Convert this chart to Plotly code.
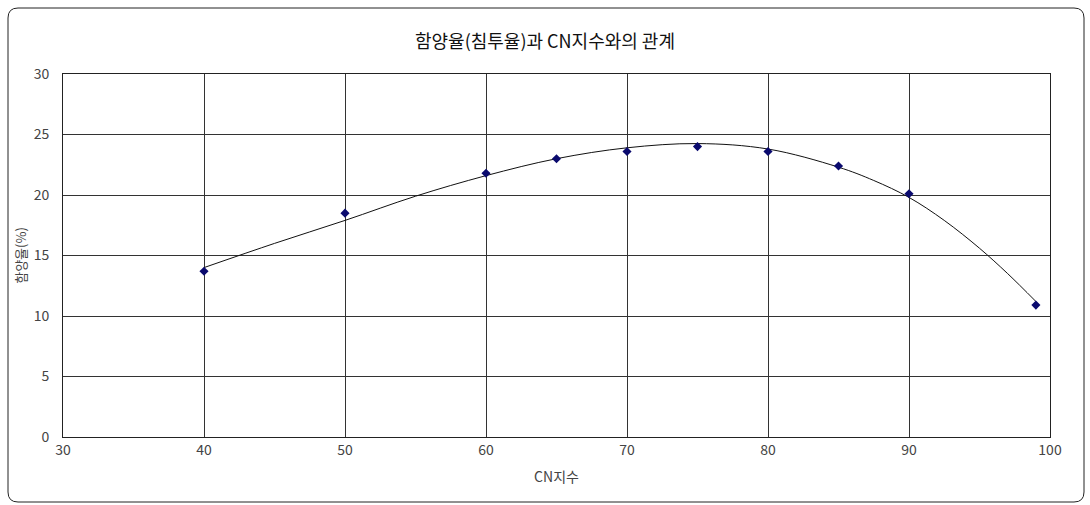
import plotly.graph_objects as go

# Observed data points
cn = [40, 50, 60, 65, 70, 75, 80, 85, 90, 99]
rate = [13.7, 18.5, 21.8, 23.0, 23.6, 24.0, 23.6, 22.4, 20.1, 10.9]

# Trendline
trend_x = [40, 45, 50, 55, 60, 65, 70, 75, 80, 85, 87.5, 90, 92.5, 95, 97, 99]
trend_y = [14.0, 16.0, 17.9, 19.9, 21.6, 23.0, 23.9, 24.25, 23.8, 22.3, 21.2, 19.8, 17.9, 15.6, 13.5, 11.2]

x_ticks = [30, 40, 50, 60, 70, 80, 90, 100]
y_ticks = [0, 5, 10, 15, 20, 25, 30]

title_text = "함양율(침투율)과 CN지수와의 관계"
x_title = "CN지수"
y_title = "함양율(%)"

font_family = "Noto Sans CJK KR, DejaVu Sans, sans-serif"

fig = go.Figure()
fig.add_trace(go.Scatter(
    x=trend_x, y=trend_y, mode="lines",
    line=dict(color="#111111", width=1, shape="spline", smoothing=1.0),
    hoverinfo="skip", showlegend=False,
))
fig.add_trace(go.Scatter(
    x=cn, y=rate, mode="markers",
    marker=dict(symbol="diamond", size=7, color="#0a0a6e"),
    showlegend=False,
))

L, R, T, B = 63, 40, 74, 68
W, H = 1090, 505
pw, ph = W - L - R, H - T - B

def px2x(px):
    return (px - L) / pw

def py2y(py):
    return (H - B - py) / ph

# outer rounded border
x0, x1 = px2x(8), px2x(1084)
y0, y1 = py2y(502), py2y(8)
rx, ry = 10 / pw, 10 / ph
path = (f"M {x0+rx},{y1} L {x1-rx},{y1} Q {x1},{y1} {x1},{y1-ry} "
        f"L {x1},{y0+ry} Q {x1},{y0} {x1-rx},{y0} L {x0+rx},{y0} "
        f"Q {x0},{y0} {x0},{y0+ry} L {x0},{y1-ry} Q {x0},{y1} {x0+rx},{y1} Z")

fig.update_layout(
    width=W, height=H,
    margin=dict(l=L, r=R, t=T, b=B),
    paper_bgcolor="white", plot_bgcolor="white",
    font=dict(family=font_family, color="#333333", size=13),
    title=dict(text=title_text, x=545 / W, xanchor="center",
               y=1 - 42 / H, yanchor="middle",
               font=dict(size=18, color="#111111", family=font_family)),
    xaxis=dict(range=[30, 100], tickvals=x_ticks, showgrid=True,
               gridcolor="#333333", gridwidth=1, zeroline=False,
               showline=True, linecolor="#222222", linewidth=1, mirror=True,
               ticks="", tickfont=dict(size=14, color="#444444"),
               title=dict(text=x_title, standoff=14, font=dict(size=14, color="#444444"))),
    yaxis=dict(range=[0, 30], tickvals=y_ticks, showgrid=True,
               gridcolor="#333333", gridwidth=1, zeroline=False,
               showline=True, linecolor="#222222", linewidth=1, mirror=True,
               ticks="", tickfont=dict(size=14, color="#444444"),
               ticklabelstandoff=10,
               title=dict(text=y_title, standoff=4, font=dict(size=13, color="#444444"))),
    shapes=[dict(type="path", xref="paper", yref="paper", path=path,
                 line=dict(color="#222222", width=1), layer="below")],
)

fig.write_html("out.html", config={"displayModeBar": False},
               post_script="document.body.style.margin='0';")
